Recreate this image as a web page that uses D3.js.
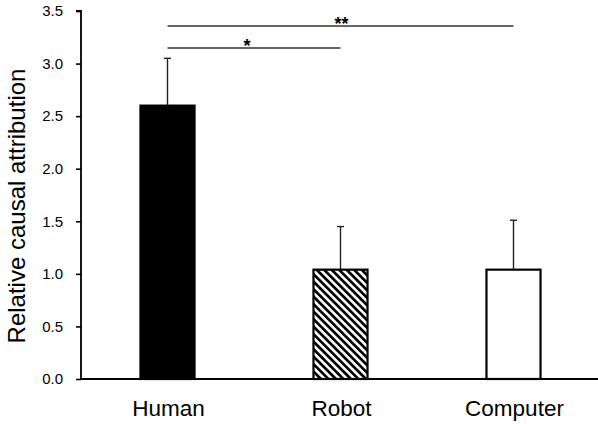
<!DOCTYPE html>
<html>
<head>
<meta charset="utf-8">
<script src="https://cdn.jsdelivr.net/npm/d3@7"></script>
<style>
  html,body{margin:0;padding:0;background:#fff;}
  svg text{font-family:"Liberation Sans",Arial,sans-serif;fill:#000;}
</style>
</head>
<body>
<svg id="chart" width="598" height="424"></svg>
<script>
// data
const groups = ["Human","Robot","Computer"];
const means  = [2.6, 1.04, 1.04];
const upper  = [3.05, 1.45, 1.51];   // top of error bars
const fills  = ["solid","hatch","open"];
const yTicks = [0,0.5,1.0,1.5,2.0,2.5,3.0,3.5];
const sigPairs = [["Human","Robot","*",48],["Human","Computer","**",26]];

const svg = d3.select("#chart");
const x = d3.scaleBand().domain(groups).range([81,600]).paddingInner(0.676).paddingOuter(0.338);
const y = d3.scaleLinear().domain([0,3.5]).range([379,11]);

const defs = svg.append("defs");
defs.append("pattern").attr("id","hatch").attr("patternUnits","userSpaceOnUse")
  .attr("width",5.3).attr("height",5.3).attr("patternTransform","rotate(-45)")
  .append("rect").attr("x",0).attr("y",0).attr("width",2.7).attr("height",5.3).attr("fill","#000");

// error bars (drawn first so the bar covers the lower end)
const eb = svg.append("g").attr("stroke","#222").attr("stroke-width",1.4);
groups.forEach((g,i)=>{
  const cx = x(g)+x.bandwidth()/2;
  eb.append("line").attr("x1",cx).attr("x2",cx).attr("y1",y(means[i])).attr("y2",y(upper[i]));
  eb.append("line").attr("x1",cx-3.5).attr("x2",cx+3.5).attr("y1",y(upper[i])).attr("y2",y(upper[i]));
});

svg.append("g").selectAll("rect").data(groups).join("rect")
  .attr("x",d=>x(d)+1).attr("width",x.bandwidth()-2)
  .attr("y",(d,i)=>y(means[i])).attr("height",(d,i)=>y(0)-y(means[i]))
  .attr("fill",(d,i)=>fills[i]==="solid"?"#000":fills[i]==="hatch"?"url(#hatch)":"#fff")
  .attr("stroke","#000").attr("stroke-width",2.2);

// axes
const ya = svg.append("g").attr("transform","translate(81,0)")
  .call(d3.axisLeft(y).tickValues(yTicks).tickFormat(d3.format(".1f")).tickSize(5).tickPadding(13));
ya.select(".domain").attr("stroke","#000").attr("stroke-width",1.8).attr("d","M-5,11H0V379");
ya.selectAll(".tick line").attr("stroke","#000").attr("stroke-width",1.6);
ya.selectAll(".tick text").attr("font-size",15).attr("fill","#111").style("font-family","'Liberation Sans',Arial,sans-serif");

svg.append("line").attr("x1",80).attr("x2",600).attr("y1",y(0)).attr("y2",y(0))
  .attr("stroke","#000").attr("stroke-width",2);

svg.append("g").selectAll("text").data(groups).join("text")
  .attr("x",d=>x(d)+x.bandwidth()/2+1).attr("y",416)
  .attr("text-anchor","middle").attr("font-size",22.5).text(d=>d);

svg.append("text").attr("transform","translate(25,206) rotate(-90)")
  .attr("text-anchor","middle").attr("font-size",24).text("Relative causal attribution");

// significance brackets
sigPairs.forEach(([a,b,lab,ly])=>{
  const x1 = x(a)+x.bandwidth()/2, x2 = x(b)+x.bandwidth()/2;
  svg.append("line").attr("x1",x1).attr("x2",x2).attr("y1",ly).attr("y2",ly)
    .attr("stroke","#333").attr("stroke-width",1.5);
  svg.append("text").attr("x",lab==="*"?247:(x1+x2)/2+1).attr("y",ly+4)
    .attr("text-anchor","middle").attr("font-size",18).attr("font-weight","bold").text(lab);
});
</script>
</body>
</html>
